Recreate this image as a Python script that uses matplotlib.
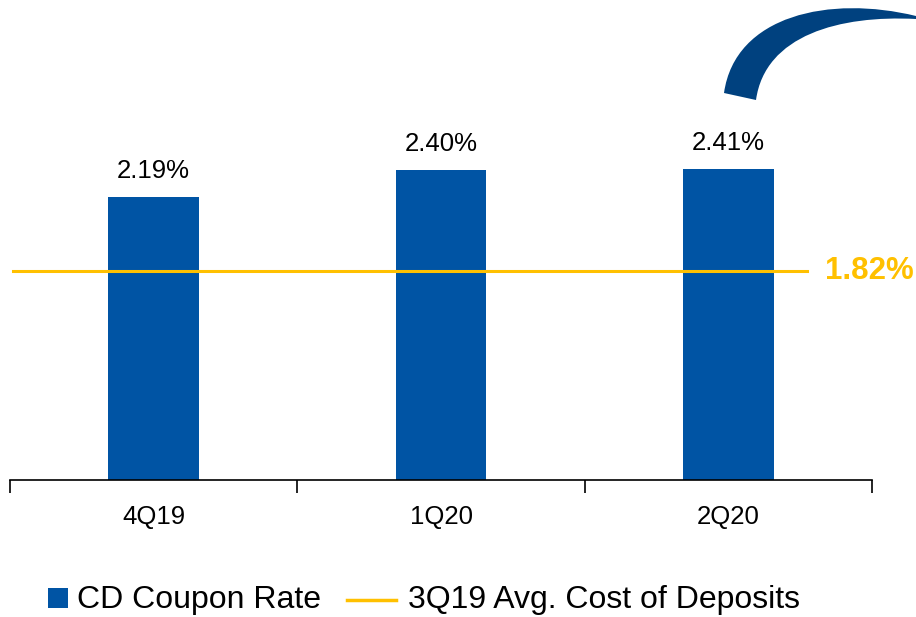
import matplotlib.pyplot as plt
from matplotlib.path import Path
from matplotlib.patches import PathPatch, Rectangle
from matplotlib.lines import Line2D

plt.rcParams['font.family'] = ['Liberation Sans', 'DejaVu Sans']

# data
quarters = ['4Q19', '1Q20', '2Q20']
cd_rate = [2.19, 2.40, 2.41]
avg_cost = 1.82
bar_name = 'CD Coupon Rate'
line_name = '3Q19 Avg. Cost of Deposits'

blue = '#0054A4'
dark_blue = '#00417F'
gold = '#FFC000'

W, H = 916, 617
fig = plt.figure(figsize=(W / 100, H / 100), dpi=100)
ax = fig.add_axes([10 / W, 1 - 480 / H, 862 / W, 480 / H])


def px(xp, yp):
  # figure pixel (from top left) -> figure fraction
  return (xp / W, 1 - yp / H)


x = list(range(len(quarters)))
ax.bar(x, cd_rate, width=0.315, color=blue, zorder=2)
for xi, v in zip(x, cd_rate):
  ax.annotate('{:.2f}%'.format(v), (xi, v), xytext=(0, 10), textcoords='offset points',
              ha='center', va='bottom', fontsize=18.5)

ax.set_xlim(-0.5, 2.5)
ax.set_ylim(0, 3.715)
ax.set_yticks([])
for s in ['top', 'right', 'left']:
  ax.spines[s].set_visible(False)
ax.spines['bottom'].set_linewidth(1.2)

# category ticks between groups, labels at the centres
ax.set_xticks([-0.5, 0.5, 1.5, 2.5])
ax.set_xticklabels([])
ax.tick_params(axis='x', which='major', length=9, width=1.2, direction='out')
ax.set_xticks(x, minor=True)
ax.set_xticklabels(quarters, minor=True, fontsize=18.5)
ax.tick_params(axis='x', which='minor', length=0, pad=18)

# reference line sits on its own (unscaled) axis in the original
ax2 = ax.twinx()
ax2.set_ylim(0, 4.18)
ax2.axis('off')
ax2.plot([-0.49, 2.275], [avg_cost, avg_cost], color=gold, lw=2.2, zorder=3)
ax2.text(2.335, avg_cost, '{:.2f}%'.format(avg_cost), color=gold, fontsize=22.5,
         fontweight='bold', ha='left', va='center', clip_on=False)
ax2.set_xlim(-0.5, 2.5)

# legend, drawn by hand to match placement
x0, y0 = px(48, 608)
x1, y1 = px(68, 588)
fig.patches.append(Rectangle((x0, y0), x1 - x0, y1 - y0, transform=fig.transFigure,
                             facecolor=blue, edgecolor='none'))
fig.text(*px(77, 600), bar_name, fontsize=23, ha='left', va='center')
lx0, ly = px(347, 600)
lx1, _ = px(396, 600)
fig.lines.append(Line2D([lx0, lx1], [ly, ly], transform=fig.transFigure,
                        color=gold, lw=2.5))
fig.text(*px(408, 600), line_name, fontsize=23, ha='left', va='center')

# curved arrow shape, top right
verts = [px(724, 93), px(735, 15), px(830, -5), px(916, 16),
         px(916, 19),
         px(840, 15), px(765, 35), px(756, 100),
         px(724, 93)]
codes = [Path.MOVETO, Path.CURVE4, Path.CURVE4, Path.CURVE4,
         Path.LINETO,
         Path.CURVE4, Path.CURVE4, Path.CURVE4,
         Path.CLOSEPOLY]
fig.patches.append(PathPatch(Path(verts, codes), transform=fig.transFigure,
                             facecolor=dark_blue, edgecolor='none'))

fig.savefig('out.png', dpi=100)
